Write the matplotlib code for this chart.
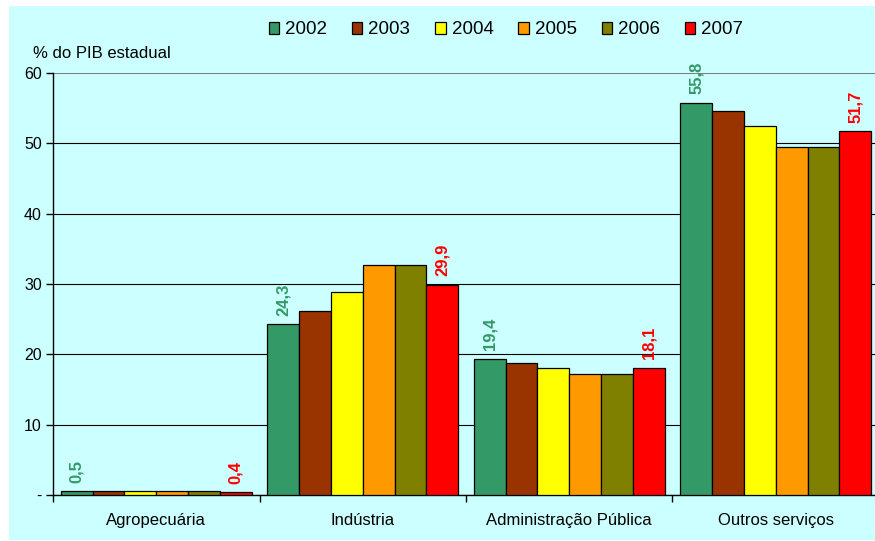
""" Participação dos setores no PIB estadual, 2002 a 2007. """

import numpy as np
import matplotlib.pyplot as plt
from matplotlib.patches import Patch, Rectangle

# Dados
categorias = ["Agropecuária", "Indústria", "Administração Pública", "Outros serviços"]
anos = ["2002", "2003", "2004", "2005", "2006", "2007"]
v2002 = [0.5, 24.3, 19.4, 55.8]
v2003 = [0.6, 26.1, 18.8, 54.6]
v2004 = [0.6, 28.9, 18.0, 52.4]
v2005 = [0.5, 32.7, 17.2, 49.5]
v2006 = [0.5, 32.7, 17.2, 49.5]
v2007 = [0.4, 29.9, 18.1, 51.7]
yticks = [0, 10, 20, 30, 40, 50, 60]
ytick_labels = ["-", "10", "20", "30", "40", "50", "60"]

series = [v2002, v2003, v2004, v2005, v2006, v2007]
cores = ["#339966", "#993300", "#FFFF00", "#FF9900", "#808000", "#FF0000"]

plt.rcParams['font.family'] = ['Liberation Sans', 'DejaVu Sans']

fig = plt.figure(figsize=(8.75, 5.41), dpi=100)
fig.patch.set_facecolor("white")
# Fundo ciano da área do gráfico
fundo = Rectangle((9 / 875, 1 / 541), 1 - 9 / 875, 534 / 541,
                  transform=fig.transFigure, facecolor="#CCFFFF",
                  edgecolor="none", zorder=-10)
fig.add_artist(fundo)

ax = fig.add_axes([53 / 875, 1 - 495 / 541, 826 / 875, 422 / 541])
ax.set_facecolor("none")

largura = 0.154
x = np.arange(len(categorias)) + 0.5
for j, vals in enumerate(series):
    pos = x + (j - 2.5) * largura
    ax.bar(pos, vals, width=largura, color=cores[j], edgecolor="black",
           linewidth=0.9, zorder=3)
    # Rótulos só para o primeiro e o último ano
    if j in (0, len(series) - 1):
        for xp, v in zip(pos, vals):
            ax.annotate(f"{v:.1f}".replace(".", ","), (xp, v),
                        xytext=(0, 6), textcoords="offset points",
                        rotation=90, ha="center", va="bottom",
                        fontsize=12, fontweight="bold", color=cores[j],
                        zorder=5)

ax.set_xlim(0, 4)
ax.set_ylim(0, 60)
ax.set_yticks(yticks)
ax.set_yticklabels(ytick_labels, fontsize=11.5)
ax.yaxis.grid(True, color="black", linewidth=0.8, zorder=0)
ax.get_ygridlines()[-1].set_color("#808080")
ax.set_axisbelow(True)

# Traços nas divisões das categorias, rótulos no centro
ax.set_xticks(np.arange(len(categorias) + 1))
ax.set_xticklabels([])
ax.set_xticks(x, minor=True)
ax.set_xticklabels(categorias, minor=True, fontsize=12)
ax.tick_params(axis="x", which="major", length=5, width=1, direction="out")
ax.tick_params(axis="x", which="minor", length=0, pad=13)
ax.tick_params(axis="y", length=5, width=1, direction="out", pad=3)

for s in ["top", "right"]:
    ax.spines[s].set_visible(False)
ax.spines["left"].set_linewidth(1)
ax.spines["bottom"].set_linewidth(1)

fig.text(33 / 875, 1 - 53 / 541, "% do PIB estadual", fontsize=12,
         ha="left", va="center")

handles = [Patch(facecolor=c, edgecolor="black", linewidth=0.9) for c in cores]
fig.legend(handles, anos, loc="center", bbox_to_anchor=(506 / 875, 1 - 30 / 541),
           ncol=6, frameon=False, fontsize=13.5, handlelength=0.55,
           handleheight=0.55, handletextpad=0.32, columnspacing=1.33)

fig.savefig("out.png", dpi=100)
